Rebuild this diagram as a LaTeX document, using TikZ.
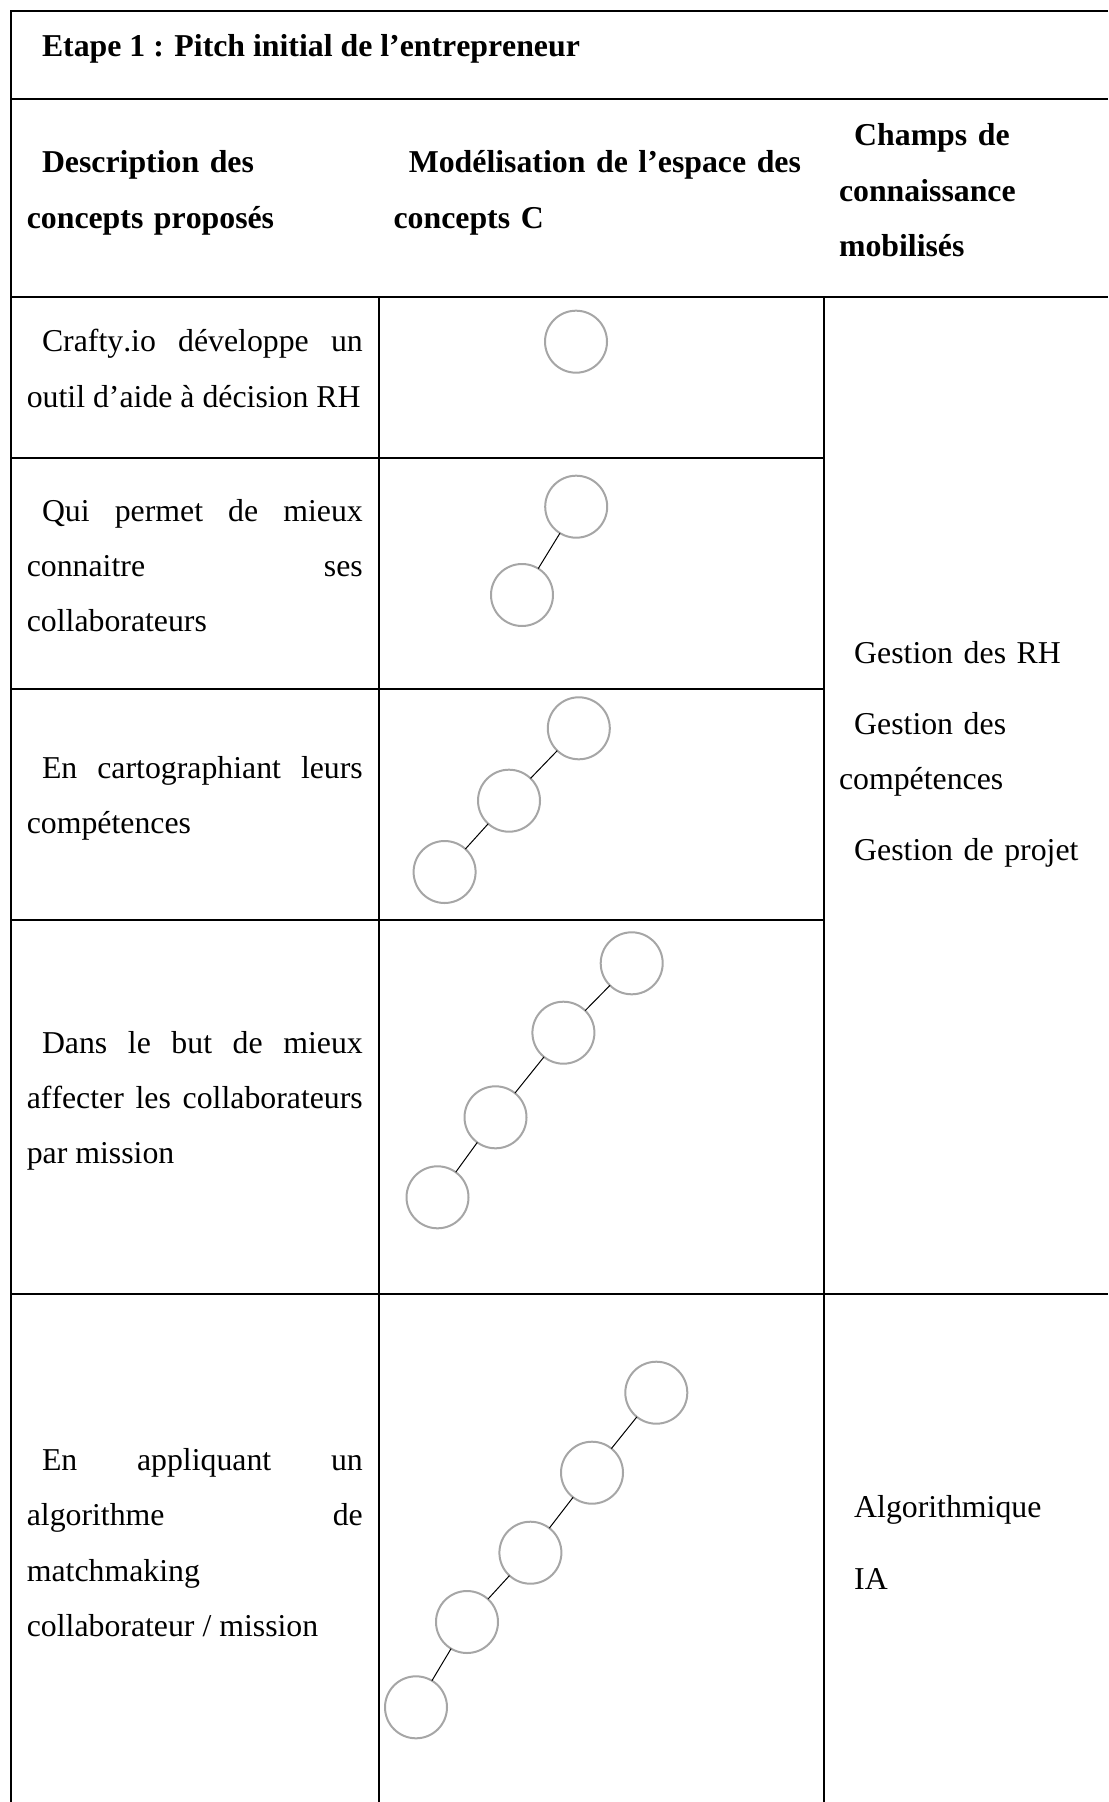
\documentclass[tikz,border=0pt]{standalone}
\usepackage{fontspec}
\setmainfont{Liberation Serif}[Ligatures=CommonOff, Kerning=Off]
\usepackage{tikz}
\definecolor{ConceptGray}{RGB}{166,166,166}
\newcommand{\pind}{\hspace*{7.6pt}}

\begin{document}
\begin{tikzpicture}[x=0.5pt, y=-0.5pt]
	\tikzstyle{every node}=[inner sep=0pt, outer sep=0pt, anchor=base west, font=\fontsize{15.9pt}{27.6pt}\selectfont];
	\tikzstyle{head}=[font=\fontsize{15.9pt}{27.8pt}\selectfont\bfseries, align=left];
	\tikzstyle{desc}=[text width=168pt, align=justify];
	\tikzstyle{field}=[text width=130pt, align=left];
	\tikzstyle{concept}=[draw=ConceptGray, line width=1pt, shape=circle, minimum size=31pt, anchor=center];
	\tikzstyle{link}=[line width=0.5pt];
	\tikzstyle{grid}=[line width=1pt];
	\useasboundingbox (0,0) rectangle (1108,1802);
	\draw[grid] (1108,11) -- (11,11) -- (11,1802);
	\draw[grid] (11,99) -- (1108,99);
	\draw[grid] (11,297.5) -- (1108,297.5);
	\draw[grid] (11,457.7) -- (823.5,457.7);
	\draw[grid] (11,688.5) -- (823.5,688.5);
	\draw[grid] (11,920) -- (823.5,920);
	\draw[grid] (11,1293.5) -- (1108,1293.5);
	\draw[grid] (378.5,297.5) -- (378.5,1802);
	\draw[grid] (823.5,297.5) -- (823.5,1802);
	\node [head] (t00) at (26.8,56.7) {\pind Etape 1 : Pitch initial de l’entrepreneur};
	\node [head, text width=170pt] (t01) at (26.8,173) {\pind Description des\\concepts proposés};
	\node [head, text width=207pt] (t02) at (393.6,173) {\pind Modélisation de l’espace des\\concepts C};
	\node [head, text width=130pt] (t03) at (839,145.7) {\pind Champs de\\connaissance\\mobilisés};
	\node [desc] (t11) at (26.8,352) {\pind Crafty.io développe un\linebreak outil d’aide à décision RH};
	\node [desc] (t21) at (26.8,521) {\pind Qui permet de mieux\linebreak connaitre ses\linebreak collaborateurs};
	\node [desc] (t31) at (26.8,778.3) {\pind En cartographiant leurs\linebreak compétences};
	\node [desc] (t41) at (26.8,1053.3) {\pind Dans le but de mieux\linebreak affecter les collaborateurs\linebreak par mission};
	\node [desc] (t51) at (26.8,1470.7) {\pind En appliquant un\linebreak algorithme de\linebreak matchmaking\newline collaborateur / mission};
	\node [field] (t13) at (839,663.3) {\pind Gestion des RH\\[8pt]\pind Gestion des\\compétences\\[8pt]\pind Gestion de projet};
	\node [field] (t53) at (839,1517.3) {\pind Algorithmique\\[8.4pt]\pind IA};
	\node [concept] (n11) at (576,341.7) {};
	\node [concept] (n21) at (576.2,506.7) {};
	\node [concept] (n22) at (522,595) {};
	\draw[link] (n21) -- (n22);
	\node [concept] (n31) at (578.8,728.3) {};
	\node [concept] (n32) at (509,800.7) {};
	\node [concept] (n33) at (444.6,872) {};
	\draw[link] (n31) -- (n32);
	\draw[link] (n32) -- (n33);
	\node [concept] (n41) at (631.7,963.3) {};
	\node [concept] (n42) at (563.4,1032.7) {};
	\node [concept] (n43) at (495.5,1117.3) {};
	\node [concept] (n44) at (437.5,1197.3) {};
	\draw[link] (n41) -- (n42);
	\draw[link] (n42) -- (n43);
	\draw[link] (n43) -- (n44);
	\node [concept] (n51) at (656.3,1392.7) {};
	\node [concept] (n52) at (592,1472.7) {};
	\node [concept] (n53) at (530.4,1552.7) {};
	\node [concept] (n54) at (467,1622) {};
	\node [concept] (n55) at (416,1707.3) {};
	\draw[link] (n51) -- (n52);
	\draw[link] (n52) -- (n53);
	\draw[link] (n53) -- (n54);
	\draw[link] (n54) -- (n55);
\end{tikzpicture}
\end{document}
